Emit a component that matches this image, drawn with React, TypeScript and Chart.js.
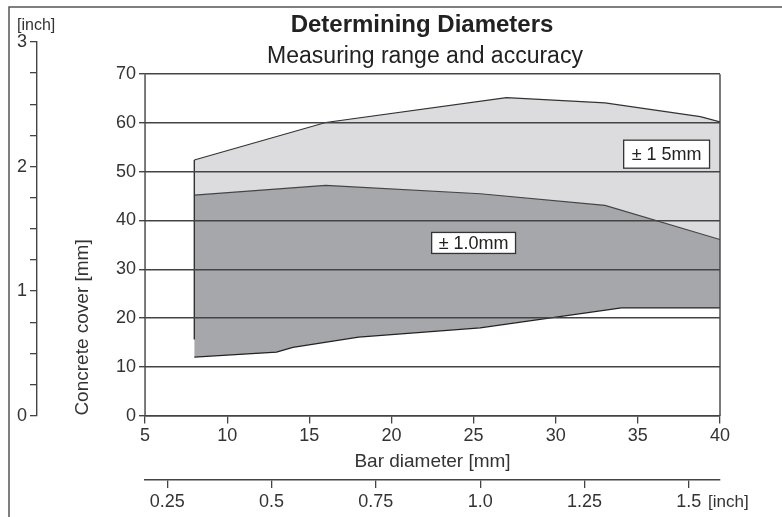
import { useEffect, useRef } from 'react';
import { Chart, registerables } from 'chart.js';

Chart.register(...registerables);

// ---- data ----
const barDiameterTicks = [5, 10, 15, 20, 25, 30, 35, 40];
const coverTicks = [0, 10, 20, 30, 40, 50, 60, 70];
const MM_PER_INCH = 25.4;
const inchBarTicks = [0.25, 0.5, 0.75, 1.0, 1.25, 1.5];
const inchBarLabels = ['0.25', '0.5', '0.75', '1.0', '1.25', '1.5'];
const inchCoverMax = 3;
const coverAxisMax = 76.6;

// ±1.5 mm range, upper boundary
const range15Upper = [
  { x: 8, y: 52.4 },
  { x: 16, y: 60.1 },
  { x: 27, y: 65.2 },
  { x: 33, y: 64.1 },
  { x: 38.8, y: 61.3 },
  { x: 40, y: 60.2 },
];
// ±1.0 mm range, upper boundary
const range10Upper = [
  { x: 8, y: 45.2 },
  { x: 16, y: 47.2 },
  { x: 25.4, y: 45.5 },
  { x: 33, y: 43.1 },
  { x: 40, y: 36.1 },
];
// lower boundary of both ranges
const range10Lower = [
  { x: 8, y: 12 },
  { x: 13, y: 13 },
  { x: 14, y: 14 },
  { x: 18, y: 16.1 },
  { x: 25.4, y: 18 },
  { x: 34, y: 22.1 },
  { x: 40, y: 22.1 },
];
// left edge of the measuring range
const leftEdge = [
  { x: 8, y: 15.6 },
  { x: 8, y: 52.4 },
];

const accuracyLabels = ['± 1 5mm', '± 1.0mm'];
const accuracyLabelX = [36.75, 25];
const accuracyLabelY = [53.6, 35.4];

const FONT = "'Liberation Sans', Arial, Helvetica, sans-serif";

export default function App() {
  const ref = useRef<HTMLCanvasElement>(null);

  useEffect(() => {
    const canvas = ref.current;
    if (!canvas) return;

    const decor = {
      id: 'decor',
      afterDraw(chart: any) {
        const ctx = chart.ctx as CanvasRenderingContext2D;
        const xs = chart.scales.x;
        const ys = chart.scales.y;
        ctx.save();

        // outer frame (top and left)
        ctx.strokeStyle = '#555';
        ctx.lineWidth = 1.5;
        ctx.beginPath();
        ctx.moveTo(9, chart.height);
        ctx.lineTo(9, 7);
        ctx.lineTo(chart.width, 7);
        ctx.stroke();

        // plot frame: left axis line and right border, from 0 to 70
        const x0 = xs.getPixelForValue(barDiameterTicks[0]);
        const x1 = xs.getPixelForValue(barDiameterTicks[barDiameterTicks.length - 1]);
        const yb = ys.getPixelForValue(coverTicks[0]);
        const yt = ys.getPixelForValue(coverTicks[coverTicks.length - 1]);
        ctx.strokeStyle = '#444';
        ctx.lineWidth = 1.4;
        ctx.beginPath();
        ctx.moveTo(x0, yb + 0.5);
        ctx.lineTo(x0, yt);
        ctx.moveTo(x1, yb + 0.5);
        ctx.lineTo(x1, yt);
        ctx.stroke();

        // accuracy labels
        const boxH = [28, 21];
        const padX = [8, 7];
        ctx.font = `18px ${FONT}`;
        ctx.textAlign = 'center';
        ctx.textBaseline = 'middle';
        accuracyLabels.forEach((t, i) => {
          const cx = xs.getPixelForValue(accuracyLabelX[i]);
          const cy = ys.getPixelForValue(accuracyLabelY[i]);
          const w = ctx.measureText(t).width + 2 * padX[i];
          const h = boxH[i];
          ctx.fillStyle = '#fff';
          ctx.fillRect(cx - w / 2, cy - h / 2, w, h);
          ctx.strokeStyle = '#333';
          ctx.lineWidth = 1.3;
          ctx.strokeRect(cx - w / 2, cy - h / 2, w, h);
          ctx.fillStyle = '#222';
          ctx.fillText(t, cx, cy + 1);
        });

        // titles
        ctx.fillStyle = '#222';
        ctx.textBaseline = 'alphabetic';
        ctx.textAlign = 'center';
        ctx.font = `bold 24px ${FONT}`;
        ctx.fillText('Determining Diameters', 422, 32);
        ctx.font = `23px ${FONT}`;
        ctx.fillText('Measuring range and accuracy', 425, 63);

        // unit labels
        ctx.fillStyle = '#333';
        ctx.textAlign = 'left';
        ctx.font = `16px ${FONT}`;
        ctx.fillText('[inch]', 17, 30);
        ctx.font = `17px ${FONT}`;
        ctx.fillText('[inch]', 708, 507);
        ctx.restore();
      },
    };

    const gridColor = '#444';
    const tickFont = { size: 18, family: FONT };
    const titleFont = { size: 19, family: FONT };

    const chart = new Chart(canvas, {
      type: 'line',
      data: {
        datasets: [
          {
            label: 'edge',
            data: leftEdge,
            borderColor: '#333',
            borderWidth: 1.4,
            pointRadius: 0,
            fill: false,
            xAxisID: 'x',
            yAxisID: 'y',
          },
          {
            label: 'lower',
            data: range10Lower,
            borderColor: '#222',
            borderWidth: 1.2,
            pointRadius: 0,
            fill: false,
            xAxisID: 'x',
            yAxisID: 'y',
          },
          {
            label: '± 1.0mm',
            data: range10Upper,
            borderColor: '#444',
            borderWidth: 1.1,
            backgroundColor: '#a6a7ab',
            pointRadius: 0,
            fill: 1,
            xAxisID: 'x',
            yAxisID: 'y',
          },
          {
            label: '± 1.5mm',
            data: range15Upper,
            borderColor: '#333',
            borderWidth: 1.2,
            backgroundColor: '#dcdcdf',
            pointRadius: 0,
            fill: 1,
            xAxisID: 'x',
            yAxisID: 'y',
          },
        ],
      },
      options: {
        animation: false,
        responsive: false,
        events: [],
        layout: { padding: { left: 14, top: 42, right: 62, bottom: 1.4 } },
        elements: { line: { tension: 0 } },
        plugins: {
          legend: { display: false },
          tooltip: { enabled: false },
          title: { display: false },
        },
        scales: {
          x: {
            type: 'linear',
            position: 'bottom',
            weight: 1,
            min: barDiameterTicks[0],
            max: barDiameterTicks[barDiameterTicks.length - 1],
            afterBuildTicks: (s: any) => {
              s.ticks = barDiameterTicks.map((v) => ({ value: v }));
            },
            ticks: { autoSkip: false, maxRotation: 0, padding: 2, color: '#333', font: tickFont },
            grid: { drawOnChartArea: false, drawTicks: true, tickLength: 8, color: gridColor, lineWidth: 1.3 },
            border: { display: true, color: gridColor, width: 1.4 },
            title: {
              display: true,
              text: 'Bar diameter [mm]',
              color: '#333',
              font: titleFont,
              padding: { top: 1.4, bottom: 6.6 },
            },
          },
          x2: {
            type: 'linear',
            position: 'bottom',
            weight: 2,
            min: barDiameterTicks[0] / MM_PER_INCH,
            max: barDiameterTicks[barDiameterTicks.length - 1] / MM_PER_INCH,
            afterBuildTicks: (s: any) => {
              s.ticks = inchBarTicks.map((v) => ({ value: v }));
            },
            ticks: {
              autoSkip: false,
              maxRotation: 0,
              padding: 3,
              color: '#333',
              font: tickFont,
              callback: (_v: any, i: number) => inchBarLabels[i],
            },
            grid: { drawOnChartArea: false, drawTicks: true, tickLength: 8, color: gridColor, lineWidth: 1.3 },
            border: { display: true, color: gridColor, width: 1.4 },
          },
          y: {
            type: 'linear',
            position: 'left',
            weight: 1,
            min: coverTicks[0],
            max: coverAxisMax,
            afterBuildTicks: (s: any) => {
              s.ticks = coverTicks.map((v) => ({ value: v }));
            },
            ticks: { autoSkip: false, padding: 3, color: '#333', font: tickFont },
            grid: { z: 1, drawOnChartArea: true, drawTicks: true, tickLength: 6, color: gridColor, lineWidth: 1.4 },
            border: { display: false },
            title: {
              display: true,
              text: 'Concrete cover [mm]',
              align: 'start',
              color: '#333',
              font: titleFont,
              padding: { top: 34.6, bottom: 18.6 },
            },
          },
          yIn: {
            type: 'linear',
            position: 'left',
            weight: 2,
            min: 0,
            max: inchCoverMax,
            ticks: {
              stepSize: 0.25,
              autoSkip: false,
              padding: 3,
              color: '#333',
              font: tickFont,
              callback: (v: any) => (Number.isInteger(Number(v)) ? String(v) : ''),
            },
            grid: { drawOnChartArea: false, drawTicks: true, tickLength: 7, color: gridColor, lineWidth: 1.3 },
            border: { display: true, color: gridColor, width: 1.4 },
          },
        },
      } as any,
      plugins: [decor],
    });

    return () => chart.destroy();
  }, []);

  return (
    <div style={{ position: 'absolute', left: 0, top: 0, width: 782, height: 517, background: '#fff' }}>
      <canvas ref={ref} width={782} height={517} style={{ display: 'block' }} />
    </div>
  );
}
